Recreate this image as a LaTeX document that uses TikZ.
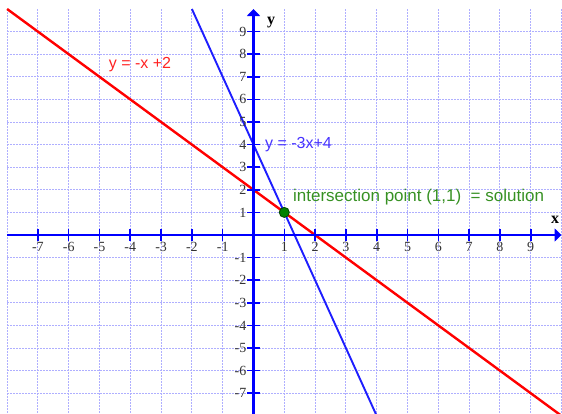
\documentclass[tikz,border=0pt]{standalone}
\usepackage{fontspec}
\setmainfont{Liberation Serif}
\setsansfont{Liberation Sans}
\usetikzlibrary{arrows.meta}
\definecolor{gridc}{RGB}{175,175,255}
\definecolor{axisc}{RGB}{0,0,255}
\definecolor{redl}{RGB}{255,0,0}
\definecolor{bluel}{RGB}{30,30,255}
\definecolor{redt}{RGB}{255,35,35}
\definecolor{bluet}{RGB}{70,50,255}
\definecolor{greent}{RGB}{55,145,35}
\definecolor{dotc}{RGB}{0,128,0}
\tikzset{
  gridline/.style={gridc, line width=1pt, dash pattern=on 2pt off 1pt},
  axisline/.style={axisc, line width=2.6pt, -{Triangle[length=7pt,width=13pt]}},
  tickmark/.style={axisc, line width=1.6pt},
  ticklabel/.style={inner sep=0pt, font=\fontsize{14}{15}\selectfont, text=black!80},
  axislabel/.style={inner sep=0pt, font=\fontsize{16}{18}\selectfont\bfseries},
  eqlabel/.style={inner sep=0pt, font=\sffamily\fontsize{16}{18}\selectfont},
  redline/.style={redl, line width=2.4pt},
  blueline/.style={bluel, line width=1.9pt}
}
\begin{document}
\begin{tikzpicture}[x=30.8pt,y=22.6pt]
\useasboundingbox (-253.5pt,-178pt) rectangle (308.5pt,235pt);
\clip (-253.5pt,-178pt) rectangle (308.5pt,235pt);
% grid
\foreach \i in {-8,...,10} {
  \draw[gridline] (\i,-8) -- (\i,10);
}
\foreach \j in {-7,...,9} {
  \draw[gridline] (-8,\j) -- (10.1,\j);
}
% lines
\draw[redline] (-8,10) -- (10,-8);
\draw[blueline] (-2,10) -- (4,-8);
% axes
\coordinate (xs) at (-8,0);
\coordinate (xe) at (10,0);
\coordinate (ys) at (0,-8.2);
\coordinate (ye) at (0,10);
\draw[axisline] (xs) -- (xe);
\draw[axisline] (ys) -- (ye);
% ticks and labels
\foreach \i in {-7,...,-1,1,2,...,9} {
  \draw[tickmark] (\i,0) ++(0,-6pt) -- ++(0,12pt);
  \node[ticklabel, anchor=north] (xl\i) at ([yshift=-7pt]\i,0) {\i};
}
\foreach \j in {-7,...,-1,1,2,...,9} {
  \draw[tickmark] (0,\j) ++(-6.5pt,0) -- ++(13pt,0);
  \node[ticklabel, anchor=east] (yl\j) at ([xshift=-7pt]0,\j) {\j};
}
\node[axislabel] (xlab) at (9.79,0.66) {x};
\node[axislabel] (ylab) at (0.57,9.38) {y};
% equation labels
\node[eqlabel, text=redt] (redlab) at (-3.685,7.52) {y = -x +2};
\node[eqlabel, text=bluet] (bluelab) at (1.46,3.98) {y = -3x+4};
\node[eqlabel, text=greent, anchor=west, font=\sffamily\fontsize{17}{19}\selectfont] (sol) at (1.28,1.68) {intersection point (1,1) \ = solution};
% intersection point
\node[circle, fill=dotc, draw=black!70!green, line width=0.9pt, minimum size=10pt, inner sep=0pt] (p) at (1,1) {};
\end{tikzpicture}
\end{document}
